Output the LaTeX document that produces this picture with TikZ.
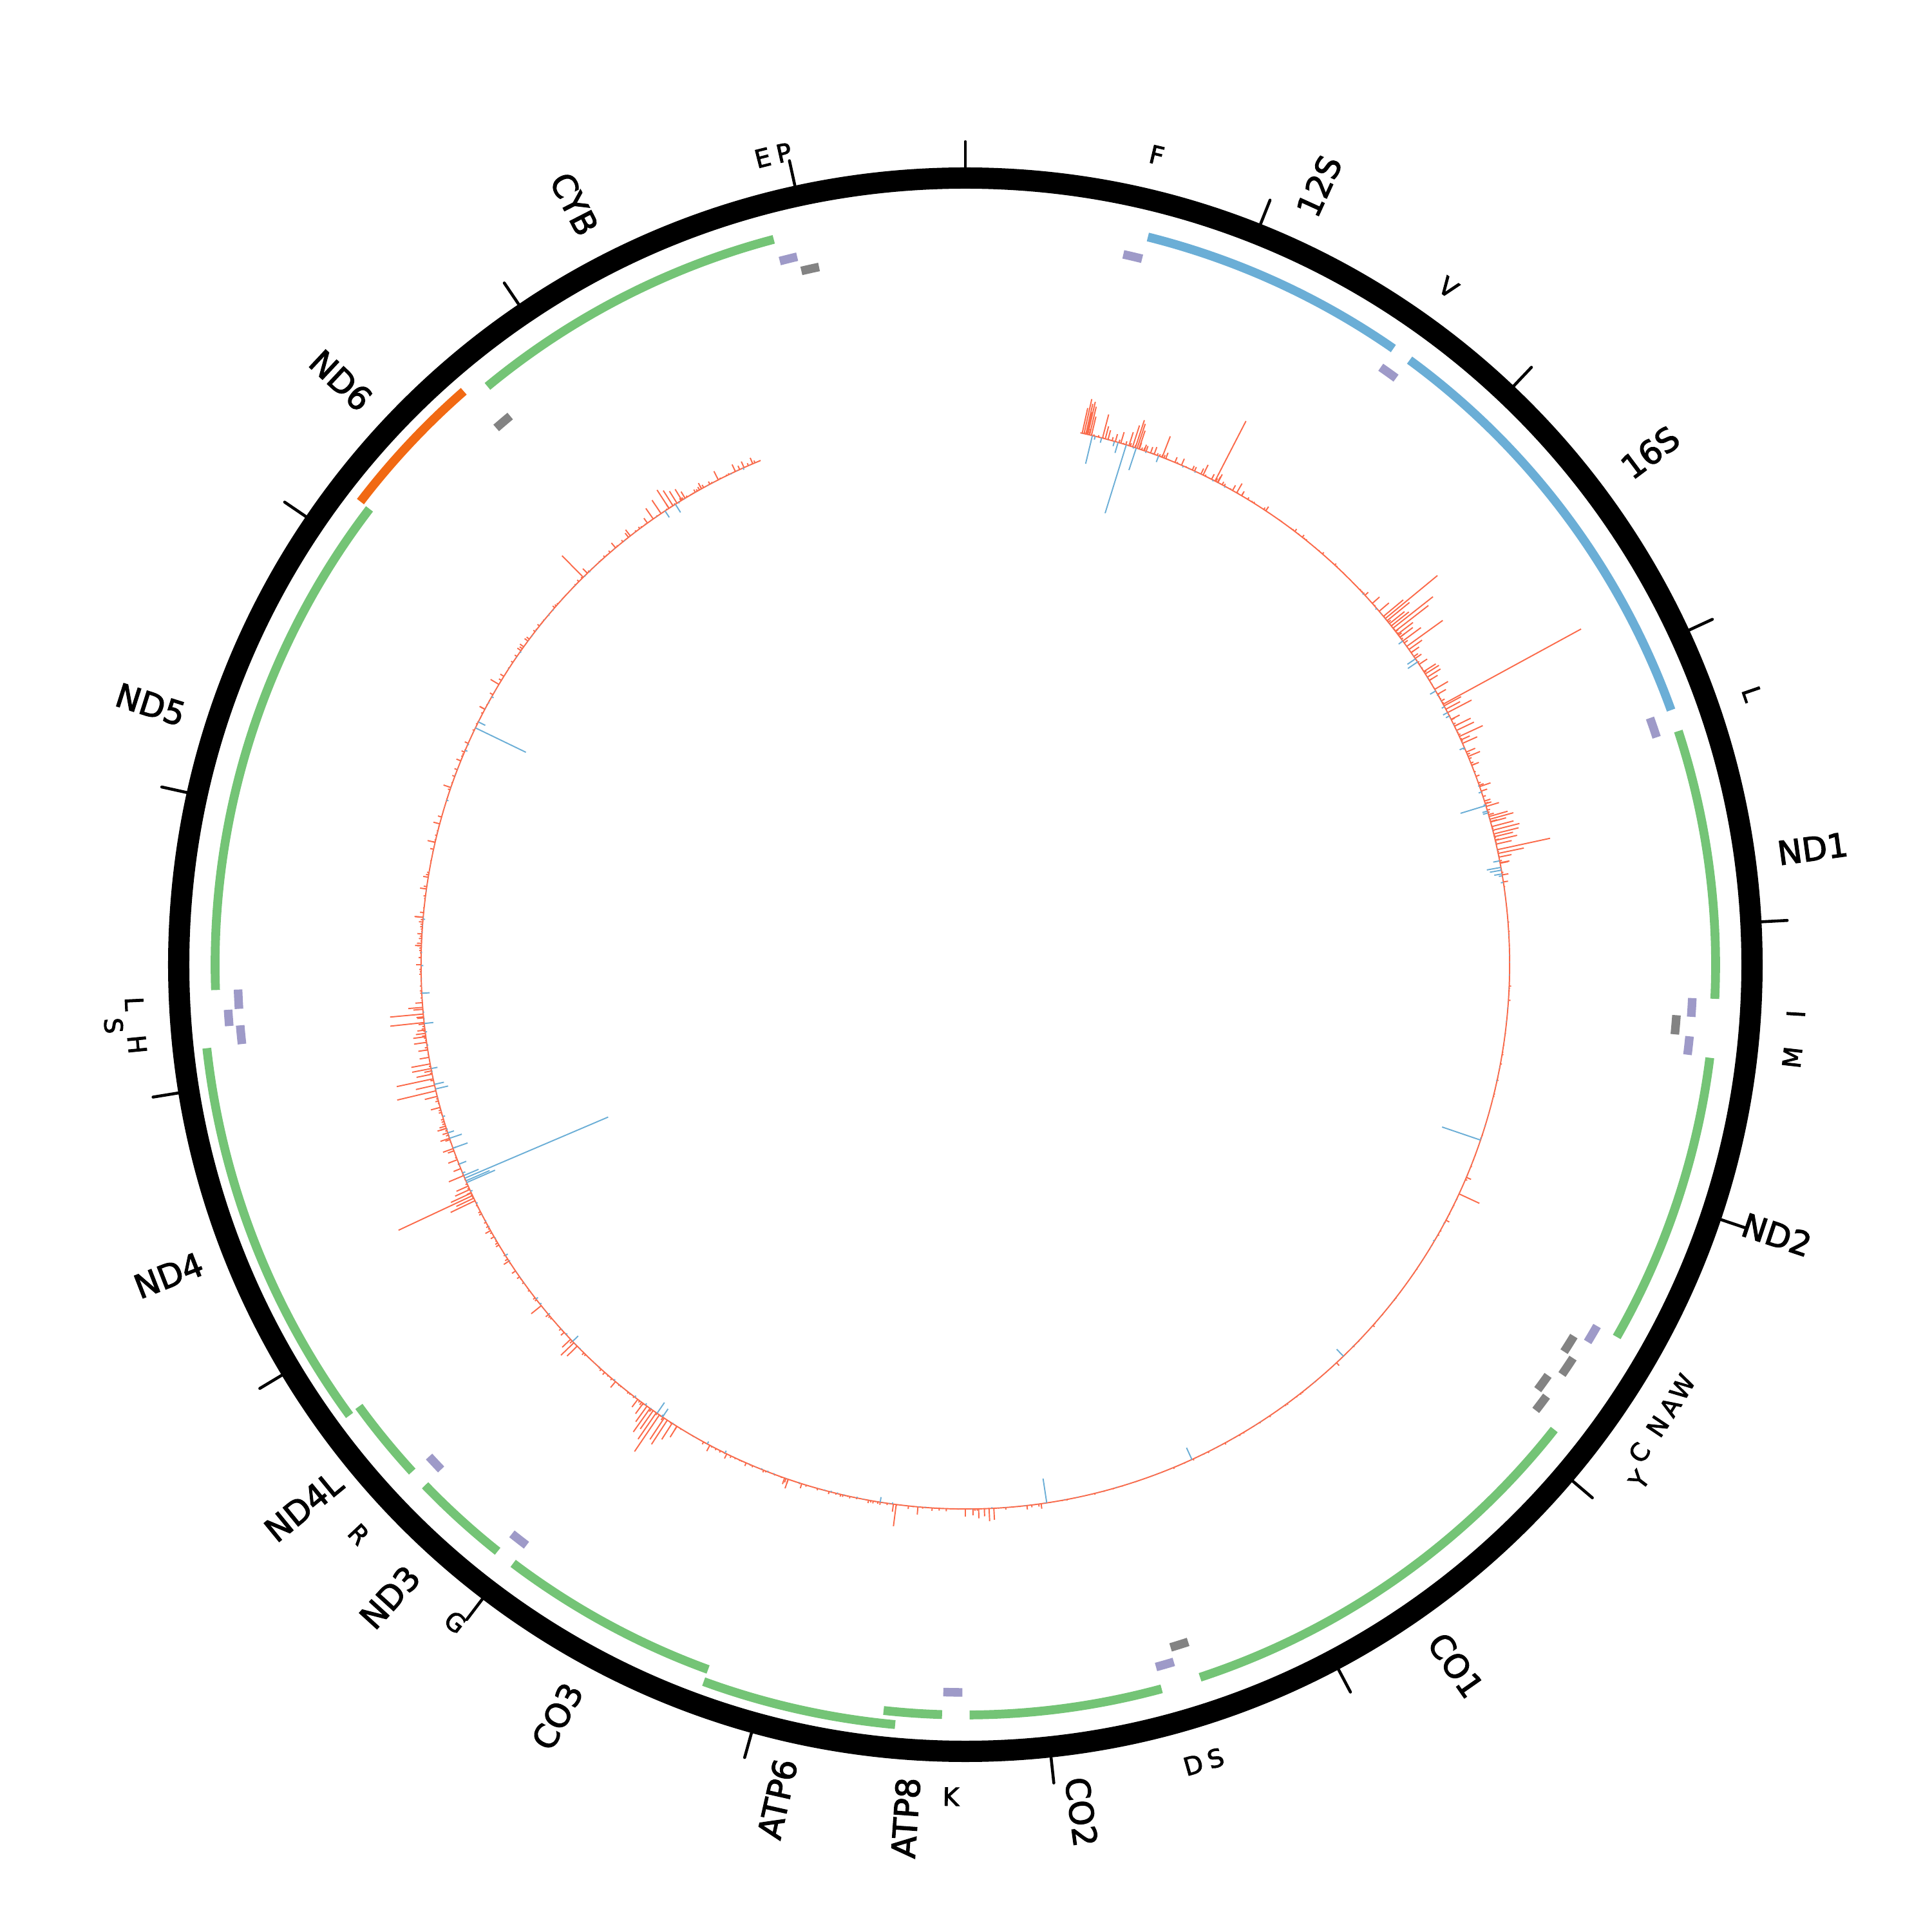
\documentclass[tikz,border=0pt]{standalone}
\usepackage{fontspec}
\setmainfont{DejaVu Sans}
\newfontfamily\labfont{DejaVu Sans}[FakeBold=2.5]
\definecolor{genegreen}{HTML}{74C476}
\definecolor{rrnablue}{HTML}{6BAED6}
\definecolor{trnapurple}{HTML}{9E9AC8}
\definecolor{trnagray}{HTML}{838383}
\definecolor{lorange}{HTML}{F16913}
\definecolor{covred}{HTML}{FB6A4A}
\definecolor{covblue}{HTML}{6BAED6}
% degrees per base pair (16569 bp)
\newcommand{\bp}{0.0217273}
% feature arc: style, start, end, radius
\newcommand{\feat}[4]{\draw[#1] ({90-#2*\bp}:#4) arc[start angle={90-#2*\bp}, end angle={90-#3*\bp}, radius=#4];}

\begin{document}
\begin{tikzpicture}[
    ring/.style={line width=0.33cm},
    tick/.style={line width=1.3pt, line cap=round},
    gene/.style={line width=3.9pt, draw=genegreen},
    rrna/.style={line width=3.9pt, draw=rrnablue},
    lgene/.style={line width=3.9pt, draw=lorange},
    htrna/.style={line width=3.8pt, draw=trnapurple},
    ltrna/.style={line width=3.8pt, draw=trnagray},
    covr/.style={draw=covred, line width=0.55pt},
    covb/.style={draw=covblue, line width=0.55pt},
    glabel/.style={font=\labfont\fontsize{14.5}{17}\selectfont, inner sep=0pt},
    tlabel/.style={font=\labfont\fontsize{11}{13}\selectfont, inner sep=0pt}]
  \useasboundingbox (-14.99,-15.02) rectangle (15.01,14.98);

  % outer ring and ticks every 1000 bp
  \draw[ring] (0,0) circle (12.215);
  \foreach \k in {0,...,16}
    \draw[tick] ({90-\k*1000*\bp}:12.37) -- ({90-\k*1000*\bp}:12.78);

  % genes and rRNAs
  \foreach \s/\e in {3307/4262, 4470/5511, 5904/7445, 7586/8269, 8366/8572,
      9207/9990, 10059/10404, 10470/10766, 12337/14148, 14747/15887}
    {\feat{gene}{\s}{\e}{11.65}}
  \foreach \s/\e in {8527/9207, 10760/12137}
    {\feat{gene}{\s}{\e}{11.85}}
  \feat{lgene}{14149}{14673}{11.83}
  \feat{rrna}{648}{1601}{11.65}
  \feat{rrna}{1671}{3229}{11.65}

  % tRNAs
  \foreach \s/\e in {577/647, 1602/1670, 3230/3304, 4263/4331, 4402/4469, 5512/5579,
      7518/7585, 8295/8364, 9991/10058, 10405/10469, 12138/12206, 12266/12336, 15888/15953}
    {\feat{htrna}{\s}{\e}{11.30}}
  \feat{htrna}{12207}{12265}{11.47}
  \foreach \s/\e in {4329/4400, 5587/5655, 5761/5826, 7446/7514, 14674/14742, 15956/16023}
    {\feat{ltrna}{\s}{\e}{11.07}}
  \foreach \s/\e in {5657/5729, 5826/5891}
    {\feat{ltrna}{\s}{\e}{11.24}}

  % coverage track
  \draw[covr] (77.8:8.45) arc[start angle=77.8, end angle=-247.9, radius=8.45];
  \pgfmathsetseed{42}
  \foreach \lo/\hi/\amp in {12.4/30/30, 30/47/9, 47/82/20, 82/172/4, 172/188/10, 188/243/15, 243/275/26, 275/337.8/14} {
    \pgfmathsetmacro\nx{\lo+0.25}
    \foreach \t in {\lo,\nx,...,\hi} {
      \pgfmathsetmacro\l{8.45+\amp*rnd*rnd*rnd/100}
      \draw[covr] ({90-\t}:8.45) -- ({90-\t}:\l);
    }
  }
  \foreach \lo/\hi/\amp in {12.4/30/14, 47/82/10, 82/188/3, 188/275/8, 275/337.8/5} {
    \pgfmathsetmacro\nx{\lo+0.7}
    \foreach \t in {\lo,\nx,...,\hi} {
      \pgfmathsetmacro\l{8.45-\amp*rnd*rnd*rnd/100}
      \draw[covb] ({90-\t}:8.45) -- ({90-\t}:\l);
    }
  }
  % larger peaks
  \foreach \t/\a in {12.4/40, 12.6/55, 12.8/48, 12.9/35, 13.0/52, 13.2/45, 13.4/30, 14.6/38,
      14.9/20, 15.2/15, 16.0/12, 16.6/18, 17.5/22, 17.9/35, 18.2/45, 18.4/40, 18.6/30,
      19.2/10, 20.3/12, 21.2/35, 21.6/10, 27.3/105, 27.6/10, 30.5/8, 33.5/8,
      48.4/15, 49.5/20, 50.2/40, 50.5/105, 50.8/45, 51.2/30, 51.5/35, 51.8/79, 52.2/65,
      52.6/30, 53.0/25, 53.5/35, 54.2/69, 54.6/25, 55.0/15, 56.5/15, 57.4/22, 57.7/25,
      58.1/24, 58.5/15, 59.6/24, 60.2/15, 61.4/244, 61.6/30, 62.0/25, 62.4/42, 63.2/15,
      64.0/28, 64.5/30, 65.2/40, 65.6/15, 66.0/25, 67.0/15, 67.5/20, 68.5/12, 70.9/18,
      71.4/10, 72.8/10, 73.1/21, 74.2/30, 74.5/38, 74.8/25, 75.3/35, 75.7/43, 76.1/40,
      76.4/30, 76.8/35, 77.2/25, 77.8/84, 78.2/41, 78.6/20, 79.2/15, 80.5/10,
      113/8, 114.9/35, 118/6, 137/6, 172/8, 177/18, 177.5/20, 178/12, 178.6/15, 179.2/10,
      180/12, 185/12, 187.3/34, 187.6/12, 199/15, 199.4/10, 206/8, 212/20, 212.6/30,
      213.2/45, 213.6/40, 214.2/69, 214.6/50, 215/35, 215.4/45, 215.8/30, 216.3/20,
      217/15, 225.5/22, 226/28, 226.5/18,
      231.2/20, 244.3/42, 244.6/30, 244.9/127, 245.2/35, 245.6/25, 246/20, 247.2/25,
      248/12, 249/15, 250/10, 251.4/15, 252.5/10, 254.8/15, 256/20, 256.6/62, 257.2/30,
      257.9/58, 258.4/25, 259/30, 259.5/30, 260.2/15, 261/15, 261.8/20, 262.4/20,
      263.1/12, 263.9/53, 264.4/10, 264.8/52, 265.3/15, 272/10, 275/12, 278/10, 283/12,
      285/10, 289/12, 298/8, 301/15, 315.4/47, 316/10, 320/10, 322/12, 325/20, 326/25,
      327/34, 327.5/28, 328/22, 328.6/20, 329/12, 331/10, 333/15, 335/12, 337/10}
    {\draw[covr] ({90-\t}:8.45) -- ({90-\t}:{8.45+\a/100});}
  \foreach \t/\a in {13.5/45, 16.3/17, 17.2/111, 18.3/36, 20.8/10, 53.5/8, 55.8/15, 56.2/18,
      59.8/10, 62.8/6, 66.5/8, 73.0/41, 73.8/8, 79.0/10, 79.7/22, 80.0/18, 80.4/12,
      108.8/63, 136/15, 155.4/20, 171.4/38, 189/8, 213.8/15, 214.5/20, 226.2/12, 246.4/48,
      246.6/40, 246.9/242, 247.2/25, 248.5/12, 250.3/24, 251.4/20, 252/10, 256.8/20,
      257.3/15, 259/10, 263.8/14, 267/12, 295.8/87, 296.5/12, 326.5/12, 327.8/15}
    {\draw[covb] ({90-\t}:8.45) -- ({90-\t}:{8.45-\a/100});}

  % gene labels
  \foreach \t/\txt [count=\i] in {24.43/12S, 53.2/16S, 82.2/ND1, 108.4/ND2, 145.0/CO1,
      172.2/CO2, 184.0/ATP8, 192.7/ATP6, 208.5/CO3, 222.3/ND3, 230.7/ND4L, 248.7/ND4,
      287.7/ND5, 313.1/ND6, 332.8/CYB} {
    \pgfmathsetmacro\rot{\t<180 ? 90-\t : 270-\t}
    \node[glabel, rotate=\rot] (gl\i) at ({90-\t}:13.28) {\txt};
  }
  % tRNA labels
  \foreach \t/\r/\txt [count=\i] in {13.3/12.92/F, 35.5/12.92/V, 71.0/12.92/L, 93.4/12.92/I,
      96.4/12.92/M, 120.5/12.92/W, 122.1/12.92/A, 123.7/12.92/N, 125.9/12.92/C,
      127.4/13.17/Y, 162.5/12.92/S, 164.1/12.92/D, 181.0/12.92/K, 217.8/12.92/G,
      226.8/12.92/R, 264.5/12.92/H, 265.9/13.26/S, 267.3/12.92/L, 345.9/12.92/E,
      347.4/12.92/P} {
    \pgfmathsetmacro\rot{(\t>90 && \t<270) ? 180-\t : -\t}
    \node[tlabel, rotate=\rot] (tl\i) at ({90-\t}:\r) {\txt};
  }
\end{tikzpicture}
\end{document}
